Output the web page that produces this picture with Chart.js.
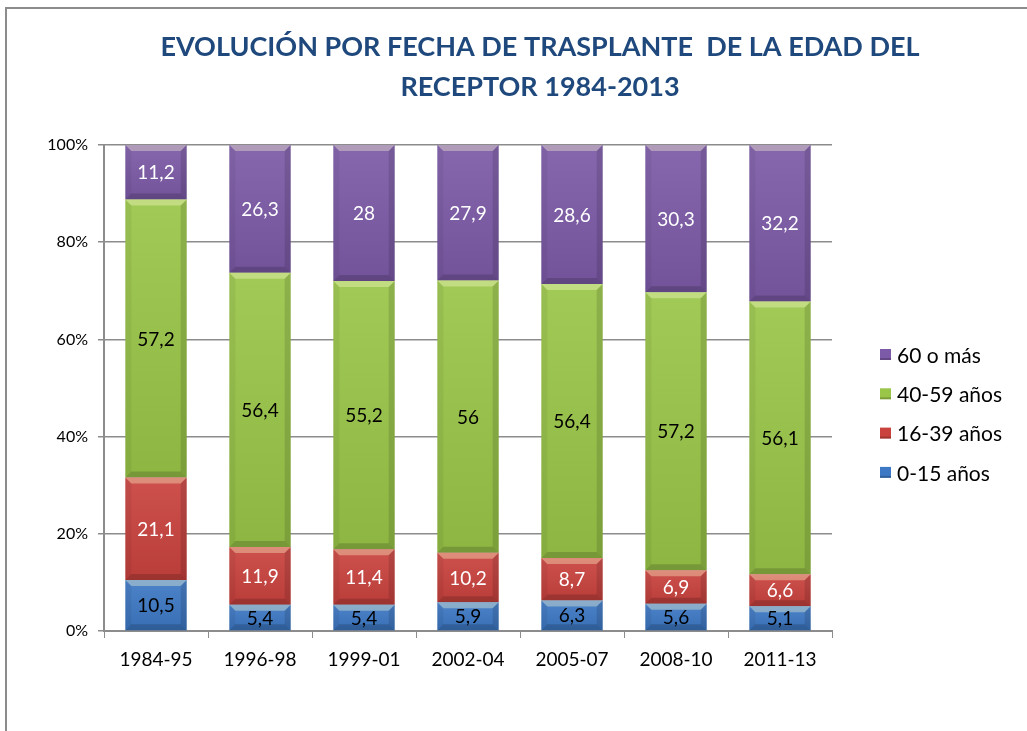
<!DOCTYPE html>
<html>
<head>
<meta charset="utf-8">
<title>Evolución de la edad del receptor</title>
<script src="https://cdn.jsdelivr.net/npm/chart.js@4.4.1/dist/chart.umd.min.js"></script>
<style>
  html, body { margin: 0; padding: 0; background: #fff; overflow: hidden; }
  #wrap { position: relative; width: 1027px; height: 731px; overflow: hidden; }
  #frame {
    position: absolute; left: 5px; top: 7px; width: 1100px; height: 800px;
    border-left: 2px solid #8c8c8c; border-top: 2px solid #8c8c8c;
  }
  #chart { position: absolute; left: 0; top: 0; }
</style>
</head>
<body>
<div id="wrap">
  <div id="frame"></div>
  <canvas id="chart" width="1080" height="731"></canvas>
</div>
<script>
  "use strict";

  const categories = ["1984-95", "1996-98", "1999-01", "2002-04", "2005-07", "2008-10", "2011-13"];
  const yTicks = [0, 20, 40, 60, 80, 100];
  const titleLines = ["EVOLUCIÓN POR FECHA DE TRASPLANTE  DE LA EDAD DEL", "RECEPTOR 1984-2013"];

  const age0to15 = [10.5, 5.4, 5.4, 5.9, 6.3, 5.6, 5.1];
  const age16to39 = [21.1, 11.9, 11.4, 10.2, 8.7, 6.9, 6.6];
  const age40to59 = [57.2, 56.4, 55.2, 56, 56.4, 57.2, 56.1];
  const age60plus = [11.2, 26.3, 28, 27.9, 28.6, 30.3, 32.2];

  const FONT = "Lato, 'Open Sans', sans-serif";

  function formatValue(v) {
    return String(v).replace(".", ",");
  }

  // Title centred on the whole chart object, not just the plot.
  const wideTitle = {
    id: "wideTitle",
    afterDraw(chart) {
      const ctx = chart.ctx;
      ctx.save();
      ctx.fillStyle = "#1f497d";
      ctx.font = "bold 27px " + FONT;
      ctx.textAlign = "center";
      ctx.textBaseline = "middle";
      titleLines.forEach((line, k) => {
        ctx.fillText(line, chart.width / 2, 47 + k * 40);
      });
      ctx.restore();
    },
  };

  // Excel-style bevel on each bar segment, then the value label on top.
  const bevelAndLabels = {
    id: "bevelAndLabels",
    afterDatasetsDraw(chart) {
      const ctx = chart.ctx;
      chart.data.datasets.forEach((ds, di) => {
        const meta = chart.getDatasetMeta(di);
        meta.data.forEach((bar, i) => {
          const p = bar.getProps(["x", "y", "base", "width"], true);
          const left = p.x - p.width / 2;
          const right = p.x + p.width / 2;
          const top = Math.min(p.y, p.base);
          const bottom = Math.max(p.y, p.base);
          const b = Math.min(6, (bottom - top) / 3);

          ctx.save();
          // soft vertical shading of the face
          const g = ctx.createLinearGradient(0, top, 0, bottom);
          g.addColorStop(0, "rgba(255,255,255,0.08)");
          g.addColorStop(1, "rgba(0,0,0,0.08)");
          ctx.fillStyle = g;
          ctx.fillRect(left, top, right - left, bottom - top);
          // top highlight
          ctx.fillStyle = "rgba(255,255,210,0.35)";
          ctx.beginPath();
          ctx.moveTo(left, top);
          ctx.lineTo(right, top);
          ctx.lineTo(right - b, top + b);
          ctx.lineTo(left + b, top + b);
          ctx.closePath();
          ctx.fill();
          // bottom shade
          ctx.fillStyle = "rgba(0,0,0,0.16)";
          ctx.beginPath();
          ctx.moveTo(left, bottom);
          ctx.lineTo(right, bottom);
          ctx.lineTo(right - b, bottom - b);
          ctx.lineTo(left + b, bottom - b);
          ctx.closePath();
          ctx.fill();
          // left side
          ctx.fillStyle = "rgba(0,0,0,0.05)";
          ctx.beginPath();
          ctx.moveTo(left, top);
          ctx.lineTo(left + b, top + b);
          ctx.lineTo(left + b, bottom - b);
          ctx.lineTo(left, bottom);
          ctx.closePath();
          ctx.fill();
          // right side
          ctx.fillStyle = "rgba(0,0,0,0.12)";
          ctx.beginPath();
          ctx.moveTo(right, top);
          ctx.lineTo(right - b, top + b);
          ctx.lineTo(right - b, bottom - b);
          ctx.lineTo(right, bottom);
          ctx.closePath();
          ctx.fill();

          ctx.fillStyle = ds.labelColor;
          ctx.font = "19px " + FONT;
          ctx.textAlign = "center";
          ctx.textBaseline = "middle";
          ctx.fillText(formatValue(ds.data[i]), p.x, (top + bottom) / 2 + 1);
          ctx.restore();
        });
      });
    },
  };

  // Legend on the right, top series first, like the original.
  const sideLegend = {
    id: "sideLegend",
    afterDraw(chart) {
      const ctx = chart.ctx;
      const area = chart.chartArea;
      const x = area.right + 48;
      const startY = 355;
      const gap = 39.3;
      const items = chart.data.datasets.slice().reverse();
      ctx.save();
      ctx.font = "21px " + FONT;
      ctx.textBaseline = "middle";
      ctx.textAlign = "left";
      items.forEach((ds, k) => {
        const cy = startY + k * gap;
        ctx.fillStyle = ds.backgroundColor;
        ctx.fillRect(x, cy - 6, 11, 11);
        ctx.fillStyle = "rgba(0,0,0,0.2)";
        ctx.fillRect(x, cy + 3, 11, 2);
        ctx.fillStyle = "#000";
        ctx.fillText(ds.label, x + 17, cy + 1);
      });
      ctx.restore();
    },
  };

  function makeDataset(label, data, color, labelColor) {
    return {
      label,
      data,
      backgroundColor: color,
      borderWidth: 0,
      labelColor,
      categoryPercentage: 1,
      barPercentage: 0.59,
    };
  }

  new Chart(document.getElementById("chart"), {
    type: "bar",
    data: {
      labels: categories,
      datasets: [
        makeDataset("0-15 años", age0to15, "#3d78c4", "#000"),
        makeDataset("16-39 años", age16to39, "#c9423e", "#fff"),
        makeDataset("40-59 años", age40to59, "#99c548", "#000"),
        makeDataset("60 o más", age60plus, "#7c5aa7", "#fff"),
      ],
    },
    options: {
      responsive: false,
      animation: false,
      layout: {padding: {top: 145, right: 248, bottom: 0, left: 0}},
      plugins: {
        legend: {display: false},
        tooltip: {enabled: false},
        title: {display: false},
      },
      scales: {
        x: {
          stacked: true,
          grid: {display: true, drawOnChartArea: false, drawTicks: true, tickLength: 7, color: "#8c8c8c", offset: true},
          border: {display: true, color: "#8c8c8c", width: 2},
          ticks: {color: "#000", font: {family: FONT, size: 19}, padding: 10},
          afterFit(scale) {
            scale.height = 100;
          },
        },
        y: {
          stacked: true,
          min: 0,
          max: 100,
          afterBuildTicks(scale) {
            scale.ticks = yTicks.map((v) => ({value: v}));
          },
          grid: {color: "#8c8c8c", lineWidth: 1.5, tickLength: 6},
          border: {display: true, color: "#8c8c8c", width: 2},
          ticks: {
            color: "#000",
            font: {family: FONT, size: 16},
            padding: 10,
            callback: (v) => v + "%",
          },
          afterFit(scale) {
            scale.width = 104;
          },
        },
      },
    },
    plugins: [bevelAndLabels, sideLegend, wideTitle],
  });
</script>
</body>
</html>
